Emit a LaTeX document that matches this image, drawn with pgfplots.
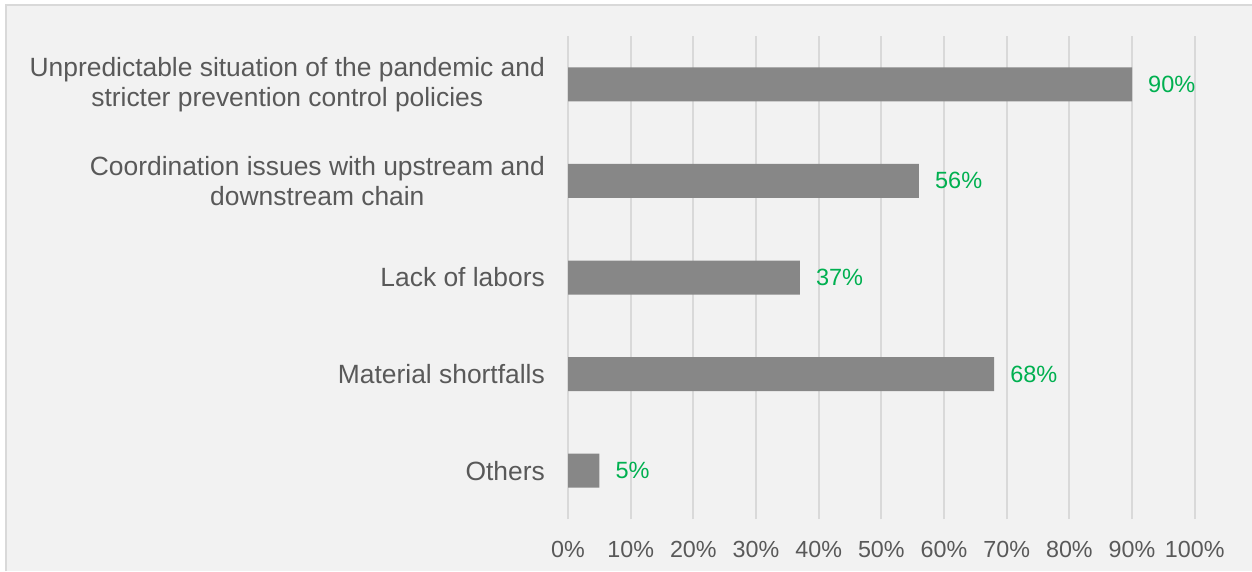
\documentclass[border=0pt]{standalone}
\usepackage{pgfplots}
\pgfplotsset{compat=1.18}
\usepackage{fontspec}
\setmainfont{Liberation Sans}
\definecolor{bgc}{HTML}{F2F2F2}
\definecolor{bordc}{HTML}{D9D9D9}
\definecolor{gridc}{HTML}{D9D9D9}
\definecolor{barc}{HTML}{878787}
\definecolor{txtc}{HTML}{595959}
\definecolor{valc}{HTML}{00B050}
\begin{document}
\begin{tikzpicture}
\fill[white] (0,0) rectangle (1252pt,571pt);
\fill[bgc] (6pt,0) rectangle (1252pt,566pt);
\draw[bordc, line width=2pt] (6pt,0) -- (6pt,566pt) -- (1252pt,566pt);
\begin{axis}[
  at={(568pt,52pt)}, anchor=south west,
  scale only axis, width=626.7pt, height=483pt,
  xbar, bar width=34pt,
  /pgf/number format/assume math mode=true,
  xmin=0, xmax=100, ymin=0.5, ymax=5.5,
  xtick={0,10,...,100},
  xticklabels={0\%,10\%,20\%,30\%,40\%,50\%,60\%,70\%,80\%,90\%,100\%},
  ytick={1,2,3,4,5},
  yticklabels={Others, Material shortfalls, Lack of labors, {Coordination issues with upstream and\\downstream chain}, {Unpredictable situation of the pandemic and\\stricter prevention control policies}},
  axis line style={draw=none},
  major tick length=0pt,
  xmajorgrids, grid style={gridc, line width=2pt},
  yticklabel style={font=\fontsize{26.4}{30}\selectfont, text=txtc, align=center, inner sep=0pt, xshift=-23pt},
  xticklabel style={font=\fontsize{23.3}{28}\selectfont, text=txtc, inner sep=0pt, yshift=-22pt},
  nodes near coords={\pgfmathprintnumber{\pgfplotspointmeta}\%},
  point meta=x,
  nodes near coords style={font=\fontsize{23.5}{28}\selectfont, text=valc, anchor=west, inner sep=0pt, xshift=16pt},
]
\addplot[fill=barc, draw=none] coordinates {(5,1) (68,2) (37,3) (56,4) (90,5)};
\end{axis}
\pgfresetboundingbox
\path[use as bounding box] (0,0) rectangle (1252pt,571pt);
\end{tikzpicture}
\end{document}
